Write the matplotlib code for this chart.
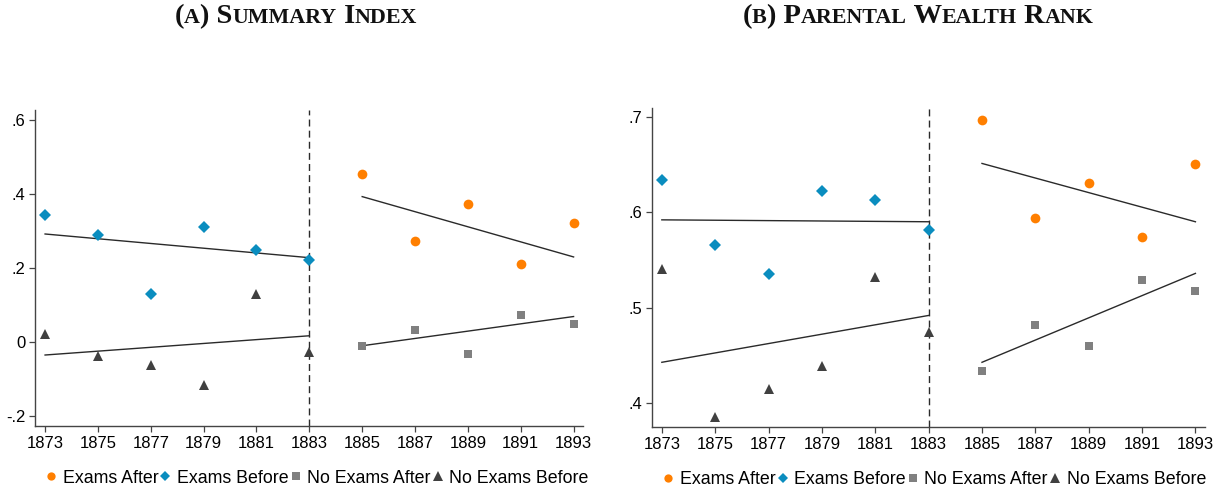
import matplotlib
matplotlib.use("Agg")
import matplotlib.pyplot as plt
from matplotlib.ticker import FixedLocator

# ---------------- data ----------------
years_before = [1873, 1875, 1877, 1879, 1881, 1883]
years_after = [1885, 1887, 1889, 1891, 1893]

# Panel A: Summary index
a_exams_before = [0.342, 0.288, 0.128, 0.310, 0.247, 0.221]
a_noexams_before = [0.020, -0.040, -0.063, -0.118, 0.128, -0.027]
a_exams_after = [0.454, 0.271, 0.372, 0.209, 0.321]
a_noexams_after = [-0.012, 0.032, -0.034, 0.071, 0.047]
# fitted lines (value at first and last year of each period)
a_fit_exams_before = [0.291, 0.227]
a_fit_noexams_before = [-0.036, 0.016]
a_fit_exams_after = [0.392, 0.229]
a_fit_noexams_after = [-0.011, 0.068]

# Panel B: Parental wealth rank
b_exams_before = [0.634, 0.566, 0.535, 0.622, 0.613, 0.581]
b_noexams_before = [0.541, 0.386, 0.415, 0.439, 0.532, 0.475]
b_exams_after = [0.696, 0.594, 0.631, 0.574, 0.650]
b_noexams_after = [0.434, 0.482, 0.460, 0.529, 0.518]
b_fit_exams_before = [0.592, 0.590]
b_fit_noexams_before = [0.443, 0.492]
b_fit_exams_after = [0.651, 0.590]
b_fit_noexams_after = [0.443, 0.536]

x_ticks = [1873, 1875, 1877, 1879, 1881, 1883, 1885, 1887, 1889, 1891, 1893]
a_yticks = [-0.2, 0, 0.2, 0.4, 0.6]
a_yticklabels = ["-.2", "0", ".2", ".4", ".6"]
b_yticks = [0.4, 0.5, 0.6, 0.7]
b_yticklabels = [".4", ".5", ".6", ".7"]
legend_labels = ["Exams After", "Exams Before", "No Exams After", "No Exams Before"]
cutoff_year = 1883

# ---------------- style ----------------
C_ORANGE = "#FF7F00"
C_BLUE = "#0A8DBF"
C_GRAY = "#808080"
C_DARK = "#404040"
C_LINE = "#2a2a2a"

plt.rcParams["font.family"] = ["Liberation Sans", "DejaVu Sans"]

fig = plt.figure(figsize=(12.25, 4.92), dpi=100)
axA = fig.add_axes([0.0286, 0.134, 0.4474, 0.6424])
axB = fig.add_axes([0.532, 0.1315, 0.4517, 0.649])


def draw_panel(ax, eb, nb, ea, na, feb, fnb, fea, fna, yticks, yticklabels,
               ylim, leg_x):
    h1, = ax.plot(years_after, ea, linestyle="none", marker="o", ms=7.0,
                  color=C_ORANGE, markeredgewidth=0, zorder=3)
    h2, = ax.plot(years_before, eb, linestyle="none", marker="D", ms=6.4,
                  color=C_BLUE, markeredgewidth=0, zorder=3)
    h3, = ax.plot(years_after, na, linestyle="none", marker="s", ms=6.4,
                  color=C_GRAY, markeredgewidth=0, zorder=3)
    h4, = ax.plot(years_before, nb, linestyle="none", marker="^", ms=7.8,
                  color=C_DARK, markeredgewidth=0, zorder=3)
    fb = [years_before[0], years_before[-1]]
    fa = [years_after[0], years_after[-1]]
    for xs, ys in [(fb, feb), (fb, fnb), (fa, fea), (fa, fna)]:
        ax.plot(xs, ys, color=C_LINE, lw=1.0, zorder=2)
    ax.axvline(cutoff_year, color=C_LINE, lw=1.0, ls=(0, (5, 3)), zorder=1)
    ax.set_xlim(1872.62, 1893.36)
    ax.set_ylim(*ylim)
    ax.xaxis.set_major_locator(FixedLocator(x_ticks))
    ax.set_xticklabels([str(t) for t in x_ticks])
    ax.set_yticks(yticks)
    ax.set_yticklabels(yticklabels)
    for s in ["top", "right"]:
        ax.spines[s].set_visible(False)
    for s in ["left", "bottom"]:
        ax.spines[s].set_color("#444444")
        ax.spines[s].set_linewidth(1.0)
    ax.tick_params(axis="both", direction="out", length=4, width=0.9,
                   color="#444444", labelsize=12, pad=3)
    leg = ax.legend([h1, h2, h3, h4], legend_labels, loc="upper center",
                    bbox_to_anchor=(leg_x, -0.115), ncol=4, frameon=False,
                    fontsize=12.8, handlelength=0.7, handletextpad=0.3,
                    columnspacing=0.05, borderaxespad=0, markerscale=0.85)
    return leg


draw_panel(axA, a_exams_before, a_noexams_before, a_exams_after, a_noexams_after,
           a_fit_exams_before, a_fit_noexams_before, a_fit_exams_after,
           a_fit_noexams_after, a_yticks, a_yticklabels, (-0.228, 0.626), 0.514)
draw_panel(axB, b_exams_before, b_noexams_before, b_exams_after, b_noexams_after,
           b_fit_exams_before, b_fit_noexams_before, b_fit_exams_after,
           b_fit_noexams_after, b_yticks, b_yticklabels, (0.375, 0.709), 0.51)


# ---------------- small-caps titles ----------------
def smallcaps_title(runs, xc_px, y_frac, big=20.5, small=15.8):
    renderer = fig.canvas.get_renderer()
    texts = []
    widths = []
    for s, is_big in runs:
        t = fig.text(0, y_frac, s, fontsize=big if is_big else small,
                     fontweight="bold", family=["Liberation Serif", "DejaVu Serif"],
                     va="baseline", ha="left", color="#111111")
        bb = t.get_window_extent(renderer=renderer)
        texts.append(t)
        widths.append(bb.width)
    total = sum(widths)
    x = xc_px - total / 2
    W = fig.get_figwidth() * fig.dpi
    for t, w in zip(texts, widths):
        t.set_x(x / W)
        x += w


titleA = [("(", True), ("A", False), (") S", True), ("UMMARY", False),
          (" I", True), ("NDEX", False)]
titleB = [("(", True), ("B", False), (") P", True), ("ARENTAL", False),
          (" W", True), ("EALTH", False), (" R", True), ("ANK", False)]
smallcaps_title(titleA, 296, 1 - 23 / 492)
smallcaps_title(titleB, 918, 1 - 23 / 492)

fig.savefig("out.png", dpi=100)
